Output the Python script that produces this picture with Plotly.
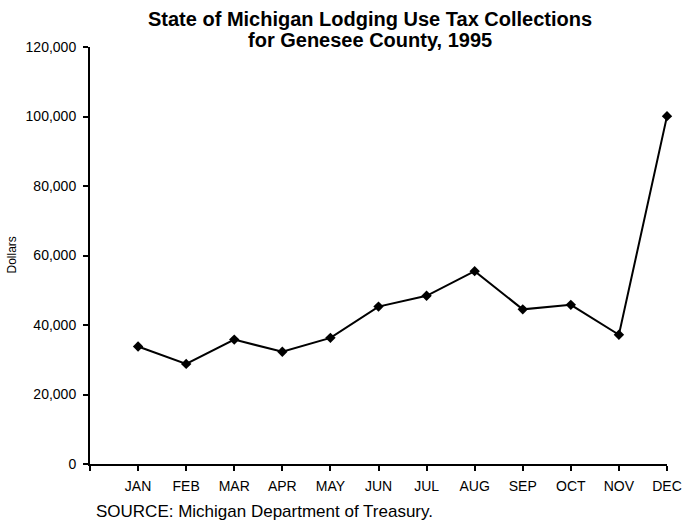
import plotly.graph_objects as go

months = ["JAN", "FEB", "MAR", "APR", "MAY", "JUN", "JUL", "AUG", "SEP", "OCT", "NOV", "DEC"]
collections = [33800, 28800, 35800, 32300, 36300, 45300, 48400, 55500, 44500, 45800, 37200, 100100]
y_ticks = [0, 20000, 40000, 60000, 80000, 100000, 120000]
title_lines = ["State of Michigan Lodging Use Tax Collections", "for Genesee County, 1995"]
source_note = "SOURCE: Michigan Department of Treasury."

FONT = "Arial, Liberation Sans, Helvetica, sans-serif"
x_pos = list(range(1, len(months) + 1))
PLOT_H = 527 - 47 - 63

fig = go.Figure()
fig.add_trace(go.Scatter(
    x=x_pos, y=collections, mode="lines+markers",
    line=dict(color="black", width=2),
    marker=dict(symbol="diamond", size=8, color="black"),
    showlegend=False, hoverinfo="skip", cliponaxis=False,
))

fig.update_layout(
    width=683, height=527,
    margin=dict(l=90, r=16, t=47, b=63, autoexpand=False),
    paper_bgcolor="white", plot_bgcolor="white",
    font=dict(family=FONT, color="black", size=14),
    xaxis=dict(
        range=[0, 12], tickmode="array",
        tickvals=[0] + x_pos, ticktext=[""] + months,
        showgrid=False, zeroline=False, automargin=False,
        showline=True, linecolor="black", linewidth=2,
        ticks="outside", ticklen=5, tickwidth=2, tickcolor="black",
        ticklabelstandoff=3,
        tickfont=dict(size=14, family=FONT, color="black"),
    ),
    yaxis=dict(
        range=[0, 120000], tickmode="array", tickvals=y_ticks,
        tickformat=",", showgrid=False, zeroline=False, automargin=False,
        showline=True, linecolor="black", linewidth=2,
        ticks="outside", ticklen=5, tickwidth=2, tickcolor="black",
        ticklabelstandoff=4,
        tickfont=dict(size=14, family=FONT, color="black"),
    ),
    annotations=[
        dict(text="<b>" + title_lines[0] + "</b>", xref="paper", yref="paper",
             x=0, y=1, xshift=370 - 90, yshift=47 - 19, xanchor="center", yanchor="middle",
             showarrow=False, font=dict(size=20, family=FONT, color="black")),
        dict(text="<b>" + title_lines[1] + "</b>", xref="paper", yref="paper",
             x=0, y=1, xshift=370 - 90, yshift=47 - 40, xanchor="center", yanchor="middle",
             showarrow=False, font=dict(size=20, family=FONT, color="black")),
        dict(text="Dollars", textangle=-90, xref="paper", yref="paper",
             x=0, y=0.5, xshift=-79, xanchor="center", yanchor="middle",
             showarrow=False, font=dict(size=12, family=FONT, color="black")),
        dict(text=source_note, xref="paper", yref="paper",
             x=0, y=-(511 - 464) / PLOT_H, xshift=4, xanchor="left", yanchor="middle",
             showarrow=False, font=dict(size=17, family=FONT, color="black")),
    ],
)

fig.write_html("out.html")
